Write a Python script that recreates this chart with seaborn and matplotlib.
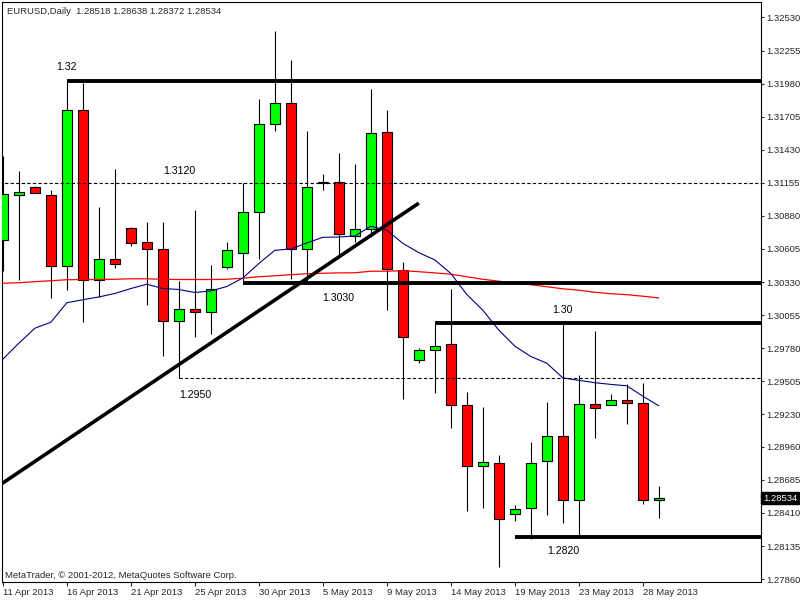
import matplotlib
matplotlib.use('Agg')
import matplotlib.pyplot as plt
import numpy as np
import seaborn as sns

# EURUSD daily candles, 11 Apr 2013 - 29 May 2013
opens = [1.30677, 1.31057, 1.31123, 1.31051, 1.30467, 1.31763, 1.30351, 1.30525,
         1.30783, 1.30667, 1.30608, 1.30002, 1.30107, 1.30077, 1.30459, 1.30575,
         1.30916, 1.31647, 1.31821, 1.30608, 1.31155, 1.31165, 1.30716, 1.30775,
         1.31580, 1.30434, 1.29678, 1.29769, 1.29811, 1.29304, 1.28797, 1.28822,
         1.28398, 1.28448, 1.28839, 1.29046, 1.28515, 1.29312, 1.29304, 1.29346,
         1.29321, 1.28518]
highs = [1.31375, 1.31251, 1.31132, 1.31093, 1.32007, 1.31982, 1.30954, 1.31273,
         1.30790, 1.30827, 1.30827, 1.30337, 1.30927, 1.30470, 1.30662, 1.31157,
         1.31849, 1.32414, 1.32173, 1.31583, 1.31232, 1.31402, 1.31309, 1.31932,
         1.31757, 1.30497, 1.29778, 1.29985, 1.30276, 1.29412, 1.29290, 1.28891,
         1.28476, 1.28997, 1.29331, 1.29988, 1.29553, 1.29921, 1.29398, 1.29481,
         1.29489, 1.28638]
lows = [1.30420, 1.30345, 1.31070, 1.30198, 1.30264, 1.29999, 1.30206, 1.30447,
        1.30630, 1.30143, 1.29716, 1.29531, 1.29874, 1.29894, 1.30436, 1.30318,
        1.30520, 1.31585, 1.30359, 1.30318, 1.31099, 1.30539, 1.30663, 1.30705,
        1.30096, 1.29354, 1.29658, 1.29404, 1.29113, 1.28423, 1.28451, 1.27958,
        1.28345, 1.28193, 1.28395, 1.28324, 1.28212, 1.29030, 1.29304, 1.29146,
        1.28482, 1.28372]
closes = [1.31060, 1.31079, 1.31074, 1.30467, 1.31763, 1.30351, 1.30525, 1.30484,
          1.30658, 1.30608, 1.30002, 1.30107, 1.30077, 1.30276, 1.30593, 1.30916,
          1.31647, 1.31821, 1.30608, 1.31123, 1.31159, 1.30726, 1.30775, 1.31572,
          1.30442, 1.29869, 1.29769, 1.29802, 1.29304, 1.28797, 1.28830, 1.28357,
          1.28440, 1.28829, 1.29046, 1.28515, 1.29312, 1.29279, 1.29346, 1.29321,
          1.28515, 1.28534]

# moving averages as drawn on the chart
ma_fast = [1.29689, 1.29822, 1.29946, 1.29996, 1.30158, 1.30183, 1.30206, 1.30235,
           1.30276, 1.30312, 1.30276, 1.30268, 1.30243, 1.30256, 1.30293, 1.30364,
           1.30484, 1.30594, 1.30605, 1.30655, 1.30702, 1.30704, 1.30713, 1.30794,
           1.30760, 1.30652, 1.30574, 1.30514, 1.30401, 1.30226, 1.30096, 1.29930,
           1.29797, 1.29711, 1.29655, 1.29533, 1.29513, 1.29493, 1.29479, 1.29467,
           1.29381, 1.29301]
ma_slow = [1.30320, 1.30324, 1.30333, 1.30341, 1.30349, 1.30351, 1.30351, 1.30353,
           1.30357, 1.30357, 1.30353, 1.30351, 1.30351, 1.30351, 1.30353, 1.30362,
           1.30374, 1.30382, 1.30391, 1.30399, 1.30403, 1.30406, 1.30407, 1.30420,
           1.30420, 1.30424, 1.30416, 1.30406, 1.30395, 1.30374, 1.30353, 1.30337,
           1.30320, 1.30308, 1.30291, 1.30274, 1.30262, 1.30245, 1.30233, 1.30225,
           1.30212, 1.30198]

# drawn support / resistance levels (value, first bar)
solid_levels = [1.32005, 1.30320, 1.29988, 1.28212]
solid_start = [4, 15, 27, 32]
dashed_levels = [1.31151, 1.29531]
dashed_start = [-1, 11]
trend_x = [-1, 26]
trend_y = [1.28570, 1.30986]

date_ticks = ['11 Apr 2013', '16 Apr 2013', '21 Apr 2013', '25 Apr 2013', '30 Apr 2013',
              '5 May 2013', '9 May 2013', '14 May 2013', '19 May 2013', '23 May 2013',
              '28 May 2013']
price_ticks = [1.27860, 1.28135, 1.28410, 1.28685, 1.28960, 1.29230, 1.29505, 1.29780,
               1.30055, 1.30330, 1.30605, 1.30880, 1.31155, 1.31430, 1.31705, 1.31980,
               1.32255, 1.32530]

sns.set_style('white')
plt.rcParams['font.family'] = ['Liberation Sans', 'DejaVu Sans']

fig = plt.figure(figsize=(8, 6), dpi=100)
ax = fig.add_axes([0.003, 0.03, 0.948, 0.966])

idx = np.arange(len(opens))
o = np.array(opens)
c = np.array(closes)
up = c >= o
colors = np.where(up, '#00ff00', '#ff0000')

ax.vlines(idx, lows, highs, color='black', lw=0.8, zorder=2)
ax.bar(idx, c - o, bottom=o, width=0.62, color=colors, edgecolor='black',
       linewidth=0.8, zorder=3)

sns.lineplot(x=idx, y=ma_slow, color='#ff0000', lw=0.9, ax=ax, zorder=4)
sns.lineplot(x=idx, y=ma_fast, color='#000080', lw=0.8, ax=ax, zorder=4)

xmax = 47.6
for lvl, st in zip(solid_levels, solid_start):
    ax.hlines(lvl, st, xmax, color='black', lw=2.8, zorder=5)
for lvl, st in zip(dashed_levels, dashed_start):
    ax.hlines(lvl, st, xmax, color='black', lw=0.8, linestyles=(0, (3, 2)), zorder=5)
ax.plot(trend_x, trend_y, color='black', lw=2.6, zorder=5, solid_capstyle='butt')

notes = [('1.32', 4.0, 1.32115), ('1.3120', 11.0, 1.31251), ('1.3030', 20.95, 1.30195),
         ('1.2950', 12.0, 1.29390), ('1.30', 34.95, 1.30096), ('1.2820', 35.0, 1.28094)]
for txt, xx, yy in notes:
    ax.text(xx, yy, txt, ha='center', va='center', fontsize=7.6, color='black', zorder=6)

ax.set_xlim(-0.03, 47.375)
ax.set_ylim(1.27836, 1.32655)

ax.set_xticks(range(0, 41, 4))
ax.set_xticklabels(date_ticks)
for lbl in ax.get_xticklabels():
    lbl.set_ha('left')
ax.yaxis.tick_right()
ax.set_yticks(price_ticks)
ax.set_yticklabels(['%.5f' % v for v in price_ticks])
ax.tick_params(axis='x', direction='out', length=3, width=0.8, pad=1.5, labelsize=6.8, bottom=True)
ax.tick_params(axis='y', direction='out', length=2.5, width=0.8, pad=1.5, labelsize=6.8, right=True, left=False)
ax.set_xlabel('')
ax.set_ylabel('')
for sp in ax.spines.values():
    sp.set_color('black')
    sp.set_linewidth(0.8)

# current price marker
ax.text(1.003, 1.28534, '1.28534', transform=ax.get_yaxis_transform(), ha='left', va='center',
        fontsize=6.8, color='white', bbox=dict(facecolor='black', edgecolor='black', pad=1.2),
        clip_on=False)

ax.text(0.006, 0.985, 'EURUSD,Daily  1.28518 1.28638 1.28372 1.28534', transform=ax.transAxes,
        ha='left', va='center', fontsize=6.8)
ax.text(0.0034, 0.012, 'MetaTrader, \u00a9 2001-2012, MetaQuotes Software Corp.', transform=ax.transAxes,
        ha='left', va='center', fontsize=6.8)

fig.savefig('out.png', dpi=100)
